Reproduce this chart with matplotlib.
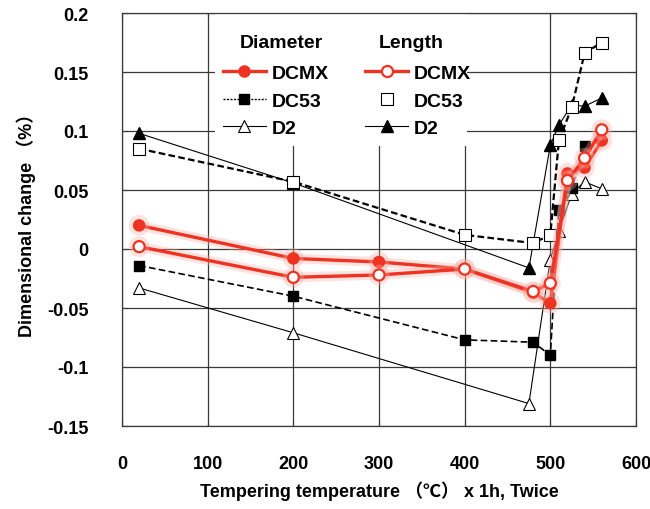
import matplotlib
matplotlib.use('Agg')
import matplotlib.pyplot as plt
from matplotlib.lines import Line2D
from matplotlib.patches import Rectangle
import matplotlib.patheffects as pe
from matplotlib.ticker import FuncFormatter

# ---- data ----
temps_dcmx = [20, 200, 300, 400, 480, 500, 520, 540, 560]
dcmx_dia = [0.020, -0.008, -0.011, -0.017, -0.037, -0.046, 0.064, 0.069, 0.092]
dcmx_len = [0.002, -0.024, -0.022, -0.017, -0.036, -0.029, 0.058, 0.077, 0.101]

temps_dc53_dia = [20, 200, 400, 480, 500, 510, 525, 540]
dc53_dia = [-0.014, -0.040, -0.077, -0.079, -0.090, 0.033, 0.052, 0.087]
temps_dc53_len = [20, 200, 400, 480, 500, 510, 525, 540, 560]
dc53_len = [0.085, 0.057, 0.012, 0.005, 0.012, 0.092, 0.120, 0.166, 0.175]

temps_d2 = [20, 200, 475, 500, 510, 525, 540, 560]
d2_dia = [-0.033, -0.071, -0.131, -0.009, 0.015, 0.047, 0.057, 0.051]
d2_len = [0.098, 0.056, -0.016, 0.088, 0.105, 0.122, 0.121, 0.128]

x_ticks = [0, 100, 200, 300, 400, 500, 600]
y_ticks = [-0.15, -0.1, -0.05, 0, 0.05, 0.1, 0.15, 0.2]

x_label = "Tempering temperature （℃） x 1h, Twice"
y_label = "Dimensional change （%）"

FAM = ['Liberation Sans Narrow', 'Liberation Sans', 'Noto Sans CJK JP', 'DejaVu Sans']
plt.rcParams['font.family'] = FAM
plt.rcParams['axes.unicode_minus'] = False

RED = '#EE3322'
GRID = '#3a3a3a'

fig = plt.figure(figsize=(6.5, 5.1), dpi=100)
ax = fig.add_axes([122/650, 1-427/510, (636-122)/650, (427-14)/510])

ax.set_xlim(0, 600)
ax.set_ylim(-0.15, 0.2)
ax.set_xticks(x_ticks)
ax.set_yticks(y_ticks)
ax.yaxis.set_major_formatter(FuncFormatter(lambda v, p: ('%g' % round(v, 3))))
ax.grid(True, color=GRID, linewidth=0.9)
ax.set_axisbelow(True)
for s in ax.spines.values():
    s.set_color(GRID)
    s.set_linewidth(0.9)
ax.tick_params(direction='in', length=4, color=GRID, top=True, right=True,
               labelsize=13)
ax.tick_params(axis='x', pad=21)
ax.tick_params(axis='y', pad=24)
for lab in ax.get_xticklabels() + ax.get_yticklabels():
    lab.set_fontweight('bold')

# white legend background covering grid
ax.add_patch(Rectangle((0.181, 0.678), 0.49, 0.322, transform=ax.transAxes,
                       facecolor='white', edgecolor='none', zorder=1))

halo = [pe.Stroke(linewidth=7, foreground='#F8B0A8', alpha=0.35), pe.Normal()]

# D2
ax.plot(temps_d2, d2_dia, color='black', lw=0.8, marker='^', ms=8,
        mfc='white', mec='black', mew=0.8, zorder=3)
ax.plot(temps_d2, d2_len, color='black', lw=0.8, marker='^', ms=8,
        mfc='black', mec='black', zorder=3)
# DC53
ax.plot(temps_dc53_dia, dc53_dia, color='black', lw=1.2, ls=(0, (4, 2)),
        marker='s', ms=7, mfc='black', mec='black', zorder=3)
ax.plot(temps_dc53_len, dc53_len, color='black', lw=1.6, ls=(0, (3, 1.5)),
        marker='s', ms=8, mfc='white', mec='black', mew=0.8, zorder=3)
# DCMX
ax.plot(temps_dcmx, dcmx_dia, color=RED, lw=2.4, marker='o', ms=8,
        mfc=RED, mec=RED, zorder=4, path_effects=halo)
ax.plot(temps_dcmx, dcmx_len, color=RED, lw=2.4, marker='o', ms=8,
        mfc='white', mec=RED, mew=1.6, zorder=4, path_effects=halo)

ax.set_xlabel(x_label, fontsize=13, fontweight='bold', labelpad=6)
ax.set_ylabel(y_label, fontsize=13, fontweight='bold', labelpad=8)

# legend
h = [
    Line2D([], [], color=RED, lw=2.4, marker='o', ms=8, mfc=RED, mec=RED),
    Line2D([], [], color='black', lw=1.0, ls=(0, (1.5, 1)), marker='s', ms=7, mfc='black', mec='black'),
    Line2D([], [], color='black', lw=0.8, marker='^', ms=8, mfc='white', mec='black', mew=0.8),
    Line2D([], [], color=RED, lw=2.4, marker='o', ms=8, mfc='white', mec=RED, mew=1.6),
    Line2D([], [], color='none', lw=0, marker='s', ms=8, mfc='white', mec='black', mew=0.8),
    Line2D([], [], color='black', lw=0.8, marker='^', ms=8, mfc='black', mec='black'),
]
labels = ['DCMX', 'DC53', 'D2', 'DCMX', 'DC53', 'D2']
leg = ax.legend(h, labels, ncol=2, loc='upper left', bbox_to_anchor=(0.196, 0.876),
                frameon=False, borderpad=0, borderaxespad=0, handlelength=2.2,
                handletextpad=0.3, columnspacing=1.9, labelspacing=0.52,
                prop={'weight': 'bold', 'size': 14, 'family': FAM})
leg.set_zorder(5)
ax.text(0.311, 0.928, 'Diameter', transform=ax.transAxes, ha='center', va='center',
        fontsize=14, fontweight='bold', zorder=5)
ax.text(0.562, 0.928, 'Length', transform=ax.transAxes, ha='center', va='center',
        fontsize=14, fontweight='bold', zorder=5)

fig.savefig('out.png', dpi=100)
